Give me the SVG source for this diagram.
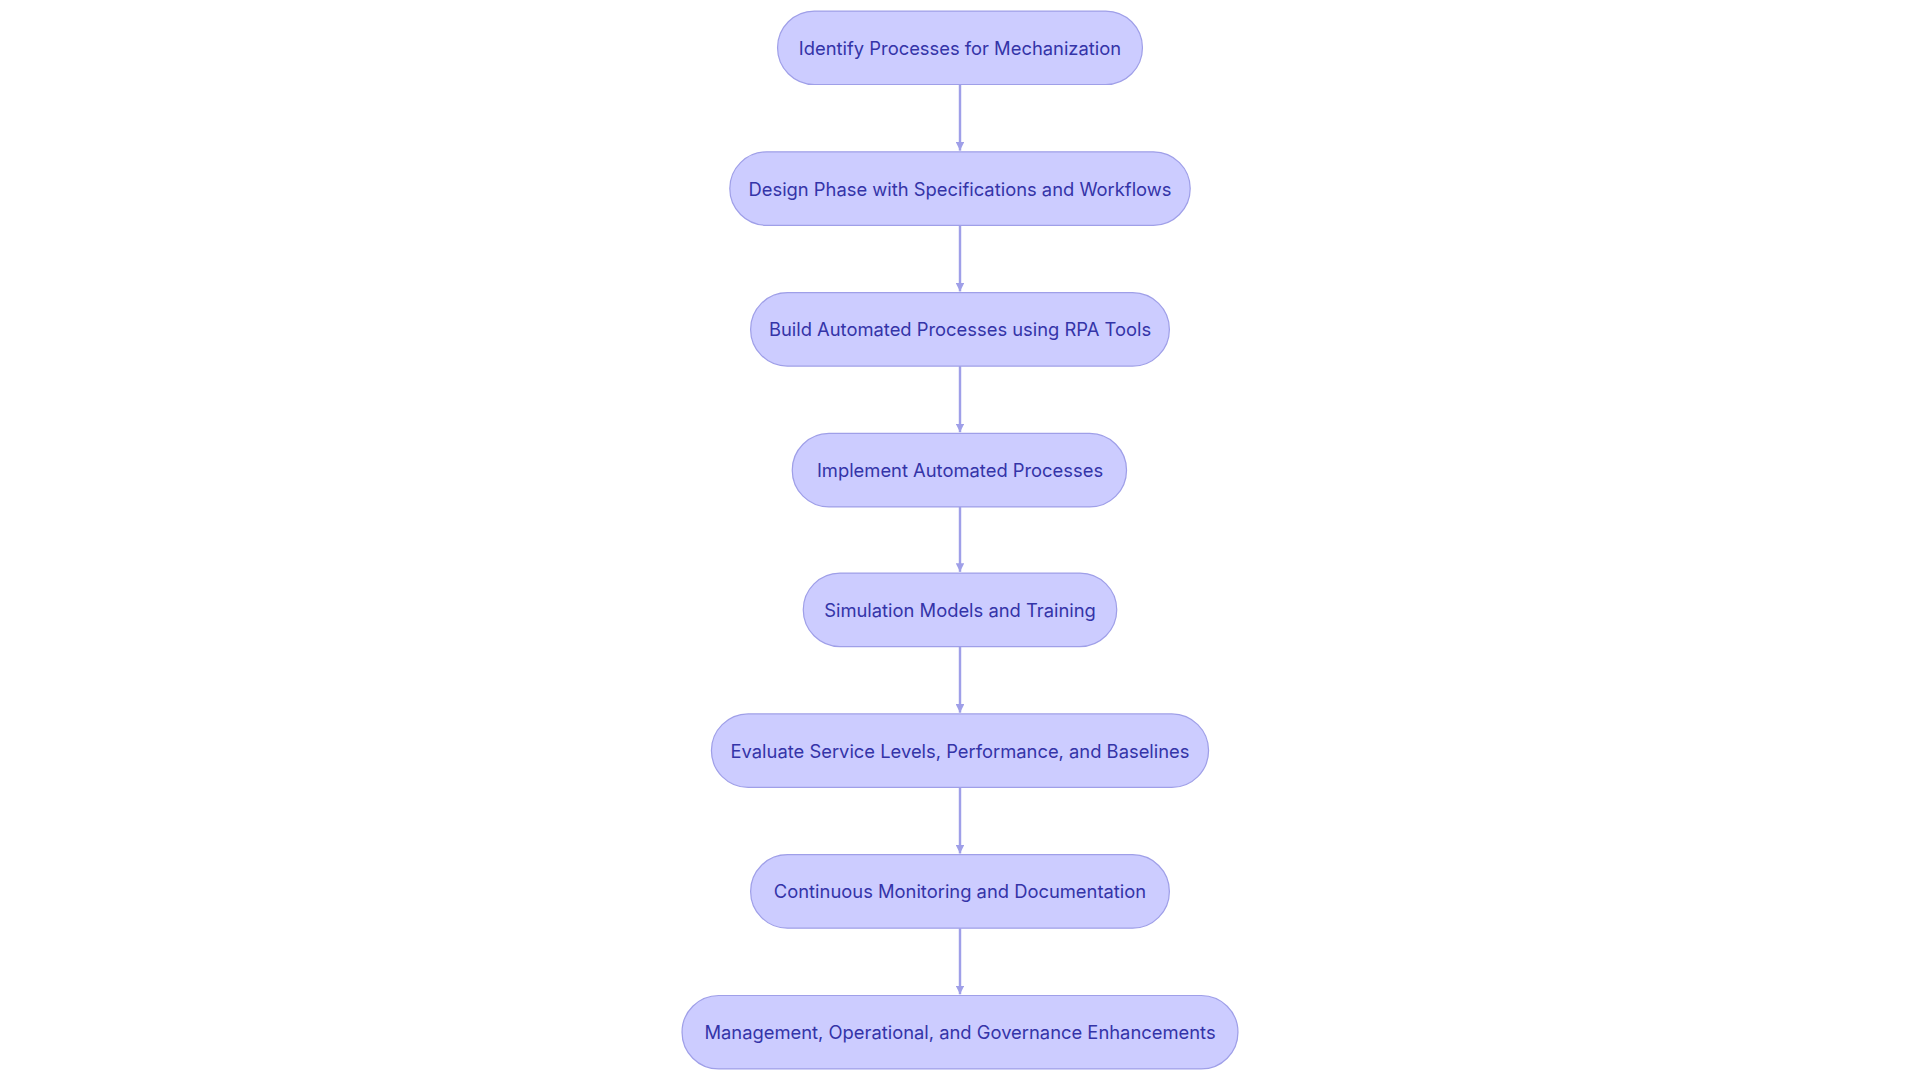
<svg xmlns="http://www.w3.org/2000/svg" width="1920" height="1080" viewBox="0 0 1920 1080">
<style>
.n rect{fill:#ccccff;stroke:#9f9fe8;stroke-width:1}
.n text{font-family:Inter,"Noto Sans",sans-serif;font-size:15px;fill:#3434a8;text-anchor:middle;dominant-baseline:central}
.e line{stroke:#9f9fe8;stroke-width:2;marker-end:url(#a)}
</style>
<defs><marker id="a" viewBox="0 0 10 10" refX="10" refY="5" markerWidth="7" markerHeight="7" markerUnits="userSpaceOnUse" orient="auto"><path d="M0,0L10,5L0,10z" fill="#9f9fe8"/></marker></defs>
<rect width="1920" height="1080" fill="#fff"/>
<g transform="scale(1.22449)">
<g class="e">
<line x1="784" y1="69" x2="784" y2="123"/>
<line x1="784" y1="184" x2="784" y2="238"/>
<line x1="784" y1="299" x2="784" y2="353"/>
<line x1="784" y1="414" x2="784" y2="467"/>
<line x1="784" y1="528" x2="784" y2="582"/>
<line x1="784" y1="643" x2="784" y2="697"/>
<line x1="784" y1="758" x2="784" y2="812"/>
</g>
<g id="n1" class="n"><rect x="635" y="9" width="298" height="60" rx="30"/><text x="784" y="39">Identify Processes for Mechanization</text></g>
<g id="n2" class="n"><rect x="596" y="124" width="376" height="60" rx="30"/><text x="784" y="154">Design Phase with Specifications and Workflows</text></g>
<g id="n3" class="n"><rect x="613" y="239" width="342" height="60" rx="30"/><text x="784" y="269">Build Automated Processes using RPA Tools</text></g>
<g id="n4" class="n"><rect x="647" y="354" width="273" height="60" rx="30"/><text x="784" y="384">Implement Automated Processes</text></g>
<g id="n5" class="n"><rect x="656" y="468" width="256" height="60" rx="30"/><text x="784" y="498">Simulation Models and Training</text></g>
<g id="n6" class="n"><rect x="581" y="583" width="406" height="60" rx="30"/><text x="784" y="613">Evaluate Service Levels, Performance, and Baselines</text></g>
<g id="n7" class="n"><rect x="613" y="698" width="342" height="60" rx="30"/><text x="784" y="728">Continuous Monitoring and Documentation</text></g>
<g id="n8" class="n"><rect x="557" y="813" width="454" height="60" rx="30"/><text x="784" y="843">Management, Operational, and Governance Enhancements</text></g>
</g>
</svg>
